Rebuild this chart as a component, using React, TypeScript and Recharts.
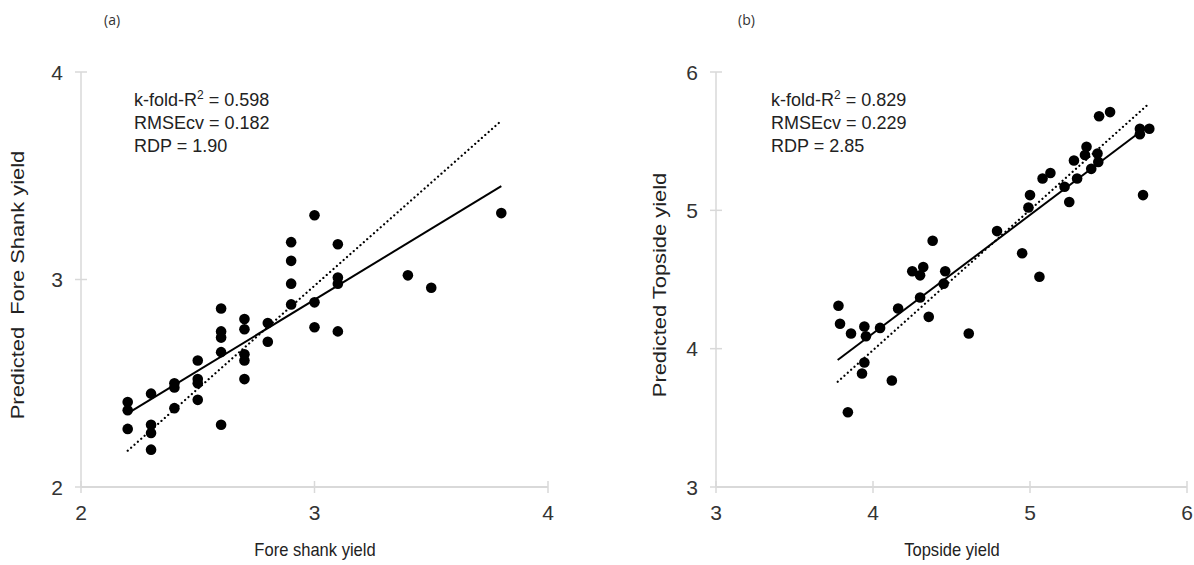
import React from 'react';
import { ScatterChart, Scatter, XAxis, YAxis } from 'recharts';

// (a) fore shank: observed vs predicted
const foreActual = [
  2.2, 2.2, 2.2, 2.3, 2.3, 2.3, 2.3, 2.4, 2.4, 2.4, 2.5, 2.5, 2.5, 2.5,
  2.6, 2.6, 2.6, 2.6, 2.6, 2.7, 2.7, 2.7, 2.7, 2.7, 2.8, 2.8, 2.9, 2.9,
  2.9, 2.9, 3.0, 3.0, 3.0, 3.1, 3.1, 3.1, 3.1, 3.4, 3.5, 3.8,
];
const forePredicted = [
  2.41, 2.37, 2.28, 2.45, 2.3, 2.26, 2.18, 2.5, 2.48, 2.38, 2.61, 2.52, 2.5, 2.42,
  2.86, 2.75, 2.72, 2.65, 2.3, 2.81, 2.76, 2.64, 2.61, 2.52, 2.79, 2.7, 3.18, 3.09,
  2.98, 2.88, 3.31, 2.89, 2.77, 3.17, 3.01, 2.98, 2.75, 3.02, 2.96, 3.32,
];
const foreFitX = [2.2, 3.8];
const foreFitY = [2.355, 3.45];
const foreRefX = [2.2, 3.8];
const foreRefY = [2.175, 3.765];
const foreTicks = [2, 3, 4];

// (b) topside: observed vs predicted
const topActual = [
  3.78, 3.79, 3.86, 3.945, 3.955, 4.045, 3.945, 3.93, 3.84, 4.12, 4.16, 4.25,
  4.32, 4.3, 4.3, 4.355, 4.38, 4.46, 4.45, 4.61, 4.79, 4.95, 5.06, 4.99,
  5.44, 5.51, 5.7, 5.7, 5.76, 5.36, 5.35, 5.43, 5.435, 5.39, 5.28, 5.3,
  5.22, 5.25, 5.08, 5.13, 5.0, 5.72,
];
const topPredicted = [
  4.31, 4.18, 4.11, 4.16, 4.09, 4.15, 3.9, 3.82, 3.54, 3.77, 4.29, 4.56,
  4.59, 4.53, 4.37, 4.23, 4.78, 4.56, 4.47, 4.11, 4.85, 4.69, 4.52, 5.02,
  5.68, 5.71, 5.59, 5.55, 5.59, 5.46, 5.4, 5.41, 5.35, 5.3, 5.36, 5.23,
  5.17, 5.06, 5.23, 5.27, 5.11, 5.11,
];
const topFitX = [3.775, 5.76];
const topFitY = [3.918, 5.617];
const topRefX = [3.775, 5.76];
const topRefY = [3.761, 5.774];
const topTicks = [3, 4, 5, 6];

const FONT = '"Liberation Sans", Arial, sans-serif';
const AXIS_GREY = '#d9d9d9';

const zip = (xs: number[], ys: number[]) => xs.map((x, i) => ({ x, y: ys[i] }));

const Dot = (p: any) => <circle cx={p.cx} cy={p.cy} r={5.3} fill="#000" />;
const NoDot = () => <g />;

const XTick = ({ x, y, payload }: any) => (
  <g>
    <line x1={x} x2={x} y1={y - 6} y2={y + 6} stroke={AXIS_GREY} strokeWidth={1.5} />
    <text x={x} y={y + 33} textAnchor="middle" fontSize={21} fill="#333" fontFamily={FONT}>
      {payload.value}
    </text>
  </g>
);

const YTick = ({ x, y, payload }: any) => (
  <g>
    <line x1={x - 6} x2={x + 6} y1={y} y2={y} stroke={AXIS_GREY} strokeWidth={1.5} />
    <text x={x - 18} y={y + 7.5} textAnchor="end" fontSize={21} fill="#333" fontFamily={FONT}>
      {payload.value}
    </text>
  </g>
);

interface PanelProps {
  left: number;
  width: number;
  margin: { top: number; right: number; bottom: number; left: number };
  points: { x: number; y: number }[];
  fit: { x: number; y: number }[];
  ref11: { x: number; y: number }[];
  ticks: number[];
}

function Panel({ left, width, margin, points, fit, ref11, ticks }: PanelProps) {
  const domain: [number, number] = [ticks[0], ticks[ticks.length - 1]];
  return (
    <div style={{ position: 'absolute', left, top: 0 }}>
      <ScatterChart width={width} height={565} margin={margin} style={{ overflow: 'visible' }}>
        <XAxis
          type="number"
          dataKey="x"
          domain={domain}
          ticks={ticks}
          allowDataOverflow
          height={40}
          tickSize={0}
          tickMargin={0}
          tickLine={false}
          axisLine={{ stroke: AXIS_GREY, strokeWidth: 2 }}
          tick={<XTick />}
        />
        <YAxis
          type="number"
          dataKey="y"
          domain={domain}
          ticks={ticks}
          allowDataOverflow
          width={60}
          tickSize={0}
          tickMargin={0}
          tickLine={false}
          axisLine={{ stroke: AXIS_GREY, strokeWidth: 1.5 }}
          tick={<YTick />}
        />
        <Scatter
          data={ref11}
          line={{ stroke: '#000', strokeWidth: 2.2, strokeDasharray: '0.1 4.4', strokeLinecap: 'round' }}
          shape={NoDot}
          isAnimationActive={false}
        />
        <Scatter
          data={fit}
          line={{ stroke: '#000', strokeWidth: 2 }}
          shape={NoDot}
          isAnimationActive={false}
        />
        <Scatter data={points} shape={Dot} isAnimationActive={false} />
      </ScatterChart>
    </div>
  );
}

const textStyle: React.CSSProperties = {
  position: 'absolute',
  fontFamily: FONT,
  color: '#222',
  whiteSpace: 'nowrap',
};

const Stats = ({ left, r2, rmse, rdp }: { left: number; r2: string; rmse: string; rdp: string }) => (
  <div style={{ ...textStyle, left, top: 89, fontSize: 18, lineHeight: '23px' }}>
    <div>
      k-fold-R<sup style={{ fontSize: 12, lineHeight: 0 }}>2</sup> = {r2}
    </div>
    <div>RMSEcv = {rmse}</div>
    <div>RDP = {rdp}</div>
  </div>
);

const VTitle = ({ cx, text }: { cx: number; text: string }) => (
  <div
    style={{
      ...textStyle,
      left: cx,
      top: 285,
      fontSize: 19,
      transform: 'translate(-50%, -50%) rotate(-90deg) scaleX(1.15)',
    }}
  >
    {text}
  </div>
);

// x titles look taller but narrower than plain Arial
const HTitle = ({ cx, text }: { cx: number; text: string }) => (
  <div
    style={{
      ...textStyle,
      left: cx,
      top: 550,
      fontSize: 19,
      transform: 'translate(-50%, -50%) scaleX(0.87)',
    }}
  >
    {text}
  </div>
);

export default function App() {
  return (
    <div
      style={{
        position: 'absolute',
        left: 0,
        top: 0,
        width: 1194,
        height: 565,
        background: '#fff',
        overflow: 'hidden',
      }}
    >
      <Panel
        left={0}
        width={600}
        margin={{ top: 72, right: 52, bottom: 38, left: 21 }}
        points={zip(foreActual, forePredicted)}
        fit={zip(foreFitX, foreFitY)}
        ref11={zip(foreRefX, foreRefY)}
        ticks={foreTicks}
      />
      <Panel
        left={600}
        width={594}
        margin={{ top: 72, right: 7, bottom: 38, left: 56 }}
        points={zip(topActual, topPredicted)}
        fit={zip(topFitX, topFitY)}
        ref11={zip(topRefX, topRefY)}
        ticks={topTicks}
      />

      <div style={{ ...textStyle, left: 104, top: 10, fontSize: 14, color: '#333', fontFamily: '"Open Sans", sans-serif' }}>
        (a)
      </div>
      <div style={{ ...textStyle, left: 738, top: 10, fontSize: 14, color: '#333', fontFamily: '"Open Sans", sans-serif' }}>
        (b)
      </div>

      <Stats left={134} r2="0.598" rmse="0.182" rdp="1.90" />
      <Stats left={771} r2="0.829" rmse="0.229" rdp="2.85" />

      <VTitle cx={18} text={'Predicted\u00a0\u00a0Fore Shank yield'} />
      <VTitle cx={660} text="Predicted Topside yield" />
      <HTitle cx={315} text="Fore shank yield" />
      <HTitle cx={952} text="Topside yield" />
    </div>
  );
}
